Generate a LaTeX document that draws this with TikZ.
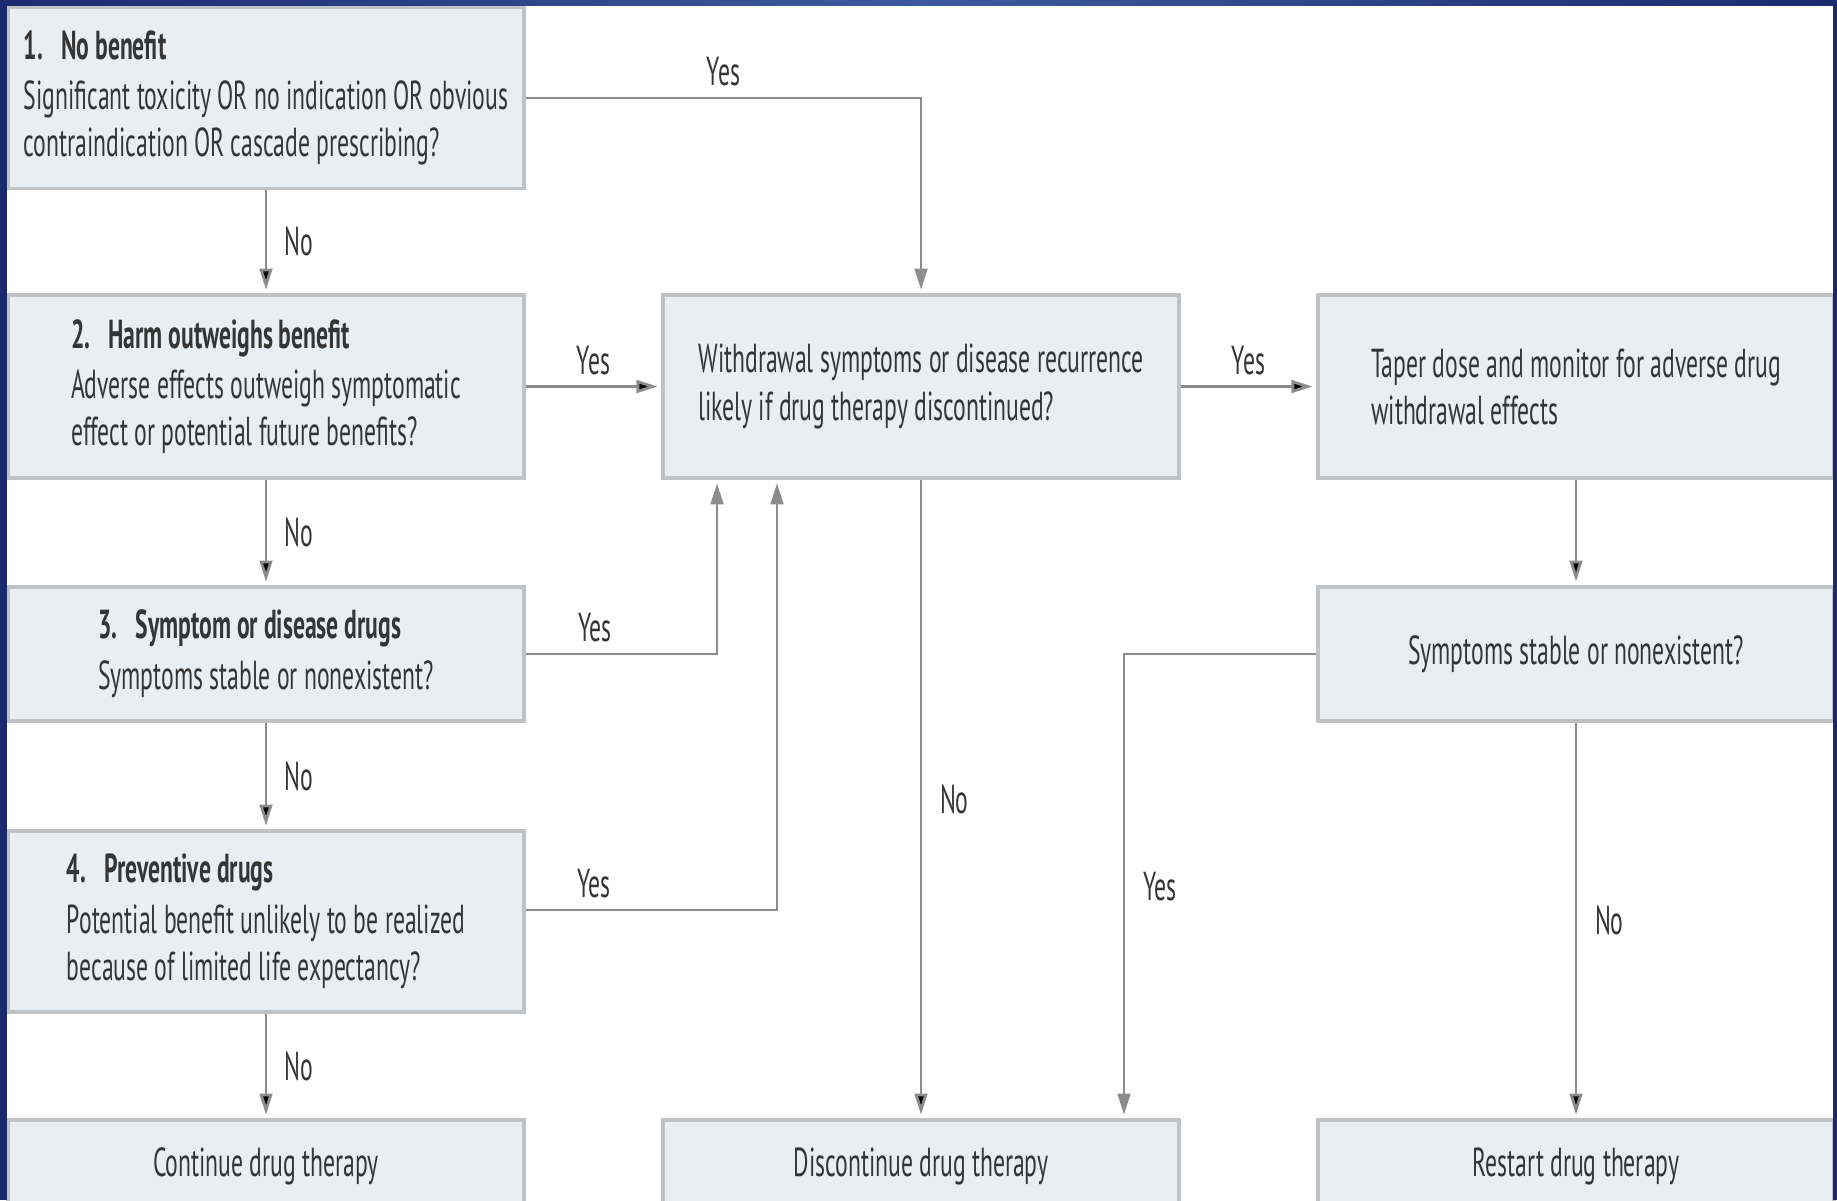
\documentclass[tikz,border=0pt]{standalone}
\usepackage{fontspec}
\setmainfont{PT Sans}[FakeStretch=0.585]
\usetikzlibrary{arrows.meta, positioning}
\definecolor{navy}{HTML}{1B2A6E}
\definecolor{navylight}{HTML}{3C5B9C}
\definecolor{boxfill}{HTML}{E9EEF2}
\definecolor{boxline}{HTML}{C0C3C6}
\definecolor{wire}{HTML}{8C8C8C}
\definecolor{ink}{HTML}{353535}
\newcommand{\hd}[2]{\textbf{#1.\hspace{0.45em}#2}}

\begin{document}
\begin{tikzpicture}[
            x = 0.01cm, y = -0.01cm, % pixel grid, y pointing down
            > = {Triangle[length=6pt, width=3.6pt]}, % arrow head style
            shorten > = 1pt, % don't touch arrow head to node
            every node/.style = {text = ink, font = \fontsize{11.5}{13.4}\selectfont},
            semithick % line style
        ]

        \tikzstyle{box}=[
            draw = boxline,
            line width = 1pt,
            fill = boxfill,
            align = left,
            inner sep = 0pt,
            minimum width = 5.16cm
        ]
        \tikzstyle{lbl}=[inner sep = 2pt]
        \tikzstyle{wire}=[draw = wire, line width = 0.8pt]

        \useasboundingbox (0, 0) rectangle (1837, 1200);
        \clip (0, 0) rectangle (1837, 1200);
        \fill[white] (0, 0) rectangle (1837, 1200);

        % left column
        \node[box, minimum height = 1.81cm] (b1) at (266, 98) {\hd{1}{No benefit}\\[1pt]Significant toxicity OR no indication OR obvious\\contraindication OR cascade prescribing?};
        \node[box, minimum height = 1.83cm] (b2) at (266, 386.5) {\hd{2}{Harm outweighs benefit}\\[1pt]Adverse effects outweigh symptomatic\\effect or potential future benefits?};
        \node[box, minimum height = 1.34cm] (b3) at (266, 654) {\hd{3}{Symptom or disease drugs}\\[1pt]Symptoms stable or nonexistent?};
        \node[box, minimum height = 1.81cm] (b4) at (266, 921.5) {\hd{4}{Preventive drugs}\\[1pt]Potential benefit unlikely to be realized\\because of limited life expectancy?};
        \node[box, minimum height = 0.92cm] (cont) at (266, 1166) {Continue drug therapy};

        % middle column
        \node[box, minimum height = 1.83cm] (wd) at (921, 386.5) {Withdrawal symptoms or disease recurrence\\likely if drug therapy discontinued?};
        \node[box, minimum height = 0.92cm] (dc) at (921, 1166) {Discontinue drug therapy};

        % right column
        \node[box, minimum height = 1.83cm] (tp) at (1576, 386.5) {Taper dose and monitor for adverse drug\\withdrawal effects};
        \node[box, minimum height = 1.34cm] (ss) at (1576, 654) {Symptoms stable or nonexistent?};
        \node[box, minimum height = 0.92cm] (rs) at (1576, 1166) {Restart drug therapy};

        \coordinate (j3) at (717, 654);
        \coordinate (j4) at (777, 910);
        \coordinate (j5) at (1124, 654);

        \path[wire, ->] (b1) edge node[lbl, right = 3pt] {No} (b2);
        \path[wire, ->] (b2) edge node[lbl, right = 3pt] {No} (b3);
        \path[wire, ->] (b3) edge node[lbl, right = 3pt] {No} (b4);
        \path[wire, ->] (b4) edge node[lbl, right = 3pt] {No} (cont);

        \draw[wire, ->] (b1.east) -- node[lbl, above = 1pt] {Yes} (b1.east -| wd.north) -- (wd.north);
        \path[wire, ->] (b2) edge node[lbl, above = 1pt] {Yes} (wd);
        \draw[wire, ->] (b3.east) -- node[lbl, pos = 0.36, above = 1pt] {Yes} (j3) -- (j3 |- wd.south);
        \draw[wire, ->] (j4 -| b4.east) -- node[lbl, pos = 0.27, above = 1pt] {Yes} (j4) -- (j4 |- wd.south);

        \path[wire, ->] (wd) edge node[lbl, above = 1pt] {Yes} (tp);
        \path[wire, ->] (wd) edge node[lbl, right = 3pt] {No} (dc);
        \path[wire, ->] (tp) edge (ss);
        \draw[wire, ->] (ss.west) -- (j5) -- node[lbl, right = 3pt] {Yes} (j5 |- dc.north);
        \path[wire, ->] (ss) edge node[lbl, right = 3pt] {No} (rs);

        % navy frame
        \fill[navy] (0, 0) rectangle (7, 1200);
        \fill[navy] (1833, 0) rectangle (1837, 1200);
        \shade[left color = navy, right color = navy, middle color = navylight] (0, 0) rectangle (1837, 5);
    \end{tikzpicture}
\end{document}
